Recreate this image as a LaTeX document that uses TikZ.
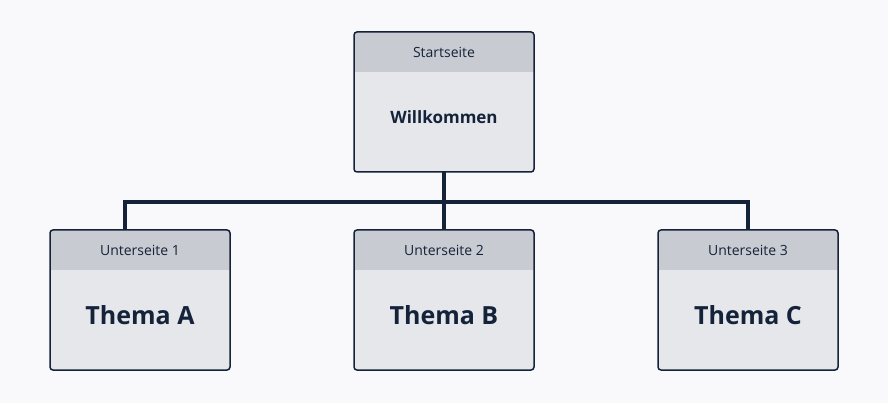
\documentclass[tikz,border=0pt]{standalone}
\usepackage{fontspec}
\setmainfont{Open Sans}
\definecolor{bg}{HTML}{F9F9FB}
\definecolor{hd}{HTML}{C8CBD2}
\definecolor{bd}{HTML}{E5E7EB}
\definecolor{ink}{HTML}{15233A}
\begin{document}
\begin{tikzpicture}[x=1pt,y=-1pt,
  pagebox/.style={draw=ink,line width=1.5pt,rounded corners=3pt,fill=bd},
  hdtext/.style={text=ink,font=\fontsize{14}{16}\selectfont},
  bodytext/.style={text=ink,font=\fontsize{17}{20}\selectfont\bfseries},
  bigtext/.style={text=ink,font=\fontsize{25}{30}\selectfont\bfseries},
  conn/.style={draw=ink,line width=3.5pt}]
\fill[bg] (0,0) rectangle (888,403);
\useasboundingbox (0,0) rectangle (888,403);
\newcommand\pbox[6]{%
  \begin{scope}
  \clip[rounded corners=3pt] (#1,#2) rectangle ++(180,140);
  \fill[bd] (#1,#2) rectangle ++(180,140);
  \fill[hd] (#1,#2) rectangle ++(180,40);
  \end{scope}
  \draw[draw=ink,line width=1.5pt,rounded corners=3pt] (#1,#2) rectangle ++(180,140);
  \coordinate (#3top) at (#1+90,#2);
  \coordinate (#3bot) at (#1+90,#2+140);
  \node[hdtext] (#3h) at (#1+90,#2+20) {#4};
  \node[#6] (#3b) at (#1+90,#2+85) {#5};}
\pbox{354}{32}{s}{Startseite}{Willkommen}{bodytext}
\pbox{50}{230}{a}{Unterseite 1}{Thema A}{bigtext}
\pbox{354}{230}{b}{Unterseite 2}{Thema B}{bigtext}
\pbox{658}{230}{c}{Unterseite 3}{Thema C}{bigtext}
\coordinate (ja) at ([xshift=-15pt]atop);
\draw[conn] (sbot) -- ++(0,30) -| (ja);
\draw[conn] (sbot) -- ++(0,30) -| (ctop);
\draw[conn] (sbot) -- (btop);
\end{tikzpicture}
\end{document}
